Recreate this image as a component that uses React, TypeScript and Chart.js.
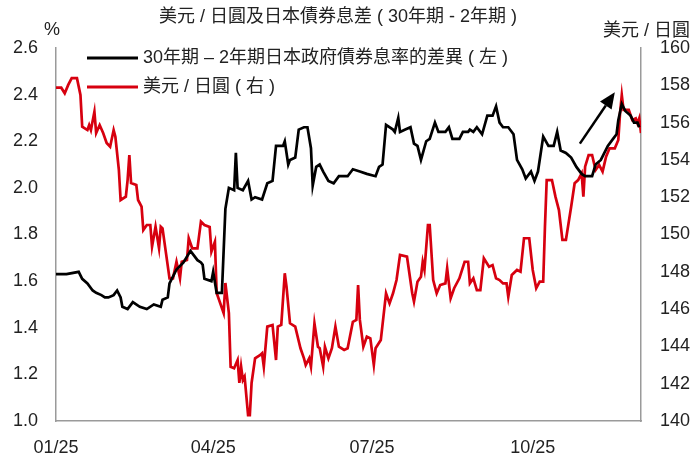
import React, { useEffect, useRef } from "react";
import { Chart, registerables } from "chart.js";

Chart.register(...registerables);

// ---------- text ----------
const TITLE = "美元 / 日圓及日本債券息差 ( 30年期 - 2年期 )";
const LEFT_UNIT = "%";
const RIGHT_UNIT = "美元 / 日圓";
const SERIES_NAMES = ["30年期 – 2年期日本政府債券息率的差異 ( 左 )", "美元 / 日圓 ( 右 )"];

// ---------- axes ----------
const X_TICK_DAYS = [0, 90, 181, 273]; // days since 2025-01-01
const X_TICK_LABELS = ["01/25", "04/25", "07/25", "10/25"];
const X_MIN_DAY = 0;
const X_MAX_DAY = 335;
const LEFT_MIN = 1.0;
const LEFT_MAX = 2.6;
const LEFT_STEP = 0.2;
const RIGHT_MIN = 140;
const RIGHT_MAX = 160;
const RIGHT_STEP = 2;

// ---------- series: 30Y - 2Y JGB spread (%), left axis ----------
const SPREAD_DAYS = [
  0, 5, 6, 13, 15, 18, 21, 23, 26, 28,
  30, 33, 35, 37, 38, 41, 44, 48, 52, 56,
  60, 61, 64, 65, 69, 73, 77, 81, 83, 84,
  85, 89, 90, 92, 95, 97, 99, 102, 103, 104,
  107, 110, 112, 114, 118, 121, 124, 126, 130, 131,
  133, 134, 137, 139, 142, 144, 146, 147, 149, 151,
  153, 156, 159, 162, 167, 170, 174, 178, 183, 185,
  187, 189, 193, 194, 196, 197, 200, 203, 205, 207,
  209, 212, 214, 217, 219, 223, 225, 227, 231, 233,
  236, 237, 239, 241, 244, 247, 250, 252, 254, 256,
  259, 262, 264, 267, 269, 272, 274, 276, 279, 282,
  285, 287, 289, 292, 295, 298, 301, 303, 307, 309,
  312, 316, 319, 321, 322, 324, 326, 329, 331, 333,
  334,
];
const SPREAD_VALUES = [
  1.63, 1.63, 1.63, 1.64, 1.61, 1.59, 1.56, 1.55, 1.54, 1.53,
  1.53, 1.54, 1.56, 1.53, 1.49, 1.48, 1.51, 1.49, 1.48, 1.50,
  1.49, 1.52, 1.53, 1.59, 1.65, 1.68, 1.73, 1.69, 1.68, 1.67,
  1.61, 1.60, 1.64, 1.55, 1.55, 1.91, 2.00, 1.99, 2.15, 2.00,
  1.99, 2.03, 1.95, 1.96, 1.95, 2.02, 2.03, 2.18, 2.18, 2.20,
  2.10, 2.12, 2.13, 2.25, 2.26, 2.26, 2.17, 2.01, 2.09, 2.10,
  2.07, 2.03, 2.02, 2.05, 2.05, 2.08, 2.07, 2.06, 2.05, 2.09,
  2.10, 2.27, 2.25, 2.24, 2.30, 2.24, 2.25, 2.26, 2.19, 2.18,
  2.12, 2.20, 2.21, 2.28, 2.24, 2.24, 2.26, 2.21, 2.21, 2.24,
  2.24, 2.25, 2.24, 2.26, 2.23, 2.31, 2.31, 2.35, 2.28, 2.26,
  2.26, 2.23, 2.12, 2.08, 2.04, 2.07, 2.03, 2.07, 2.22, 2.18,
  2.18, 2.24, 2.16, 2.15, 2.13, 2.09, 2.06, 2.05, 2.05, 2.10,
  2.12, 2.18, 2.21, 2.23, 2.29, 2.36, 2.33, 2.31, 2.28, 2.28,
  2.26,
];

// ---------- series: USD/JPY, right axis ----------
const USDJPY_DAYS = [
  0, 3, 5, 7, 9, 12, 14, 15, 18, 19,
  20, 22, 23, 25, 27, 29, 31, 33, 34, 36,
  37, 40, 41, 42, 43, 46, 47, 49, 50, 52,
  54, 55, 57, 59, 60, 61, 63, 65, 67, 69,
  71, 72, 75, 76, 78, 81, 83, 85, 88, 89,
  91, 92, 94, 96, 97, 99, 100, 102, 104, 105,
  106, 107, 108, 110, 111, 112, 114, 117, 118, 119,
  121, 124, 126, 127, 129, 131, 132, 134, 137, 140,
  142, 143, 145, 146, 148, 150, 151, 153, 154, 156,
  158, 160, 162, 165, 167, 170, 172, 173, 174, 176,
  178, 180, 182, 183, 186, 189, 191, 193, 195, 197,
  201, 204, 205, 207, 209, 210, 211, 213, 214, 216,
  218, 220, 223, 224, 226, 228, 231, 234, 236, 237,
  239, 241, 243, 245, 248, 250, 252, 254, 256, 258,
  259, 261, 264, 266, 268, 271, 273, 275, 277, 279,
  280, 281, 284, 286, 288, 290, 292, 295, 297, 299,
  301, 302, 303, 305, 307, 309, 311, 313, 315, 317,
  320, 322, 323, 324, 325, 328, 330, 332, 333, 334,
  335,
];
const USDJPY_VALUES = [
  157.87, 157.87, 157.57, 158.02, 158.38, 158.38, 157.48, 155.78, 155.6, 155.87,
  155.6, 156.58, 155.44, 155.87, 155.44, 154.91, 154.71, 155.6, 155.24, 153.46,
  151.85, 152.03, 152.92, 154.26, 152.76, 152.65, 151.85, 151.49, 150.24, 150.51,
  150.51, 149.35, 150.42, 149.26, 150.42, 150.33, 148.99, 147.65, 147.65, 148.54,
  147.65, 148.54, 148.63, 149.8, 149.26, 149.26, 150.69, 150.51, 150.4, 149.08,
  149.61, 146.86, 146.33, 145.79, 147.4, 145.79, 142.91, 142.83, 143.27, 142.04,
  142.91, 142.2, 142.38, 140.32, 140.32, 142.04, 143.36, 143.54, 143.63, 142.91,
  145.06, 145.15, 143.27, 145.06, 145.15, 147.92, 147.2, 145.24, 145.06, 143.9,
  143.36, 143.0, 143.36, 142.91, 145.24, 143.98, 143.9, 142.91, 143.98, 143.36,
  143.9, 145.06, 143.98, 143.81, 143.9, 145.32, 145.42, 147.29, 145.42, 143.98,
  144.52, 144.43, 143.0, 143.9, 144.34, 146.85, 146.31, 146.85, 147.56, 148.9,
  148.81, 146.85, 146.4, 147.47, 147.74, 148.54, 148.1, 150.51, 150.51, 147.56,
  146.85, 147.29, 147.38, 148.19, 146.58, 147.12, 147.65, 148.54, 148.54, 147.38,
  147.65, 147.02, 147.02, 148.72, 148.27, 148.36, 147.65, 147.56, 147.38, 147.38,
  146.66, 147.83, 148.1, 148.01, 149.8, 149.8, 148.1, 147.12, 147.47, 147.47,
  150.42, 152.92, 152.92, 152.03, 151.31, 149.71, 149.71, 151.49, 152.75, 152.92,
  153.28, 152.03, 153.64, 154.26, 154.26, 153.46, 153.73, 153.37, 154.17, 154.62,
  154.62, 155.07, 156.5, 157.48, 156.68, 156.68, 156.14, 156.23, 155.96, 156.23,
  155.44,
];

// ---------- annotation arrow (data coords on left axis) ----------
const ARROW_FROM = { day: 300, value: 2.19 };
const ARROW_TO = { day: 320, value: 2.41 };

const FONT = "'Liberation Sans', 'Noto Sans CJK TC', Arial, sans-serif";
const TEXT_COLOR = "#222222";
const AXIS_COLOR = "#9a9a9a";
const BLACK = "#000000";
const RED = "#d7000f";

const overlayPlugin = {
  id: "overlay",
  afterDraw(chart: any) {
    const ctx = chart.ctx;
    const area = chart.chartArea;
    ctx.save();
    ctx.fillStyle = TEXT_COLOR;
    ctx.font = `18px ${FONT}`;
    ctx.textBaseline = "middle";

    // title
    ctx.textAlign = "center";
    ctx.fillText(TITLE, 338, 17);

    // axis units
    ctx.textAlign = "center";
    ctx.fillText(LEFT_UNIT, area.left - 4, 30);
    ctx.textAlign = "right";
    ctx.fillText(RIGHT_UNIT, 690, 31);

    // legend
    const colors = [BLACK, RED];
    const ys = [area.top + 10, area.top + 39];
    for (let i = 0; i < 2; i++) {
      ctx.strokeStyle = colors[i];
      ctx.lineWidth = 3;
      ctx.beginPath();
      ctx.moveTo(area.left + 31, ys[i]);
      ctx.lineTo(area.left + 82, ys[i]);
      ctx.stroke();
      ctx.textAlign = "left";
      ctx.fillStyle = TEXT_COLOR;
      ctx.fillText(SERIES_NAMES[i], area.left + 87, ys[i]);
    }

    // arrow
    const xs = chart.scales.x;
    const yl = chart.scales.y;
    const x0 = xs.getPixelForValue(ARROW_FROM.day);
    const y0 = yl.getPixelForValue(ARROW_FROM.value);
    const x1 = xs.getPixelForValue(ARROW_TO.day);
    const y1 = yl.getPixelForValue(ARROW_TO.value);
    const ang = Math.atan2(y1 - y0, x1 - x0);
    const headLen = 16;
    const headW = 7;
    const bx = x1 - headLen * Math.cos(ang);
    const by = y1 - headLen * Math.sin(ang);
    ctx.strokeStyle = BLACK;
    ctx.lineWidth = 2.5;
    ctx.beginPath();
    ctx.moveTo(x0, y0);
    ctx.lineTo(bx, by);
    ctx.stroke();
    ctx.fillStyle = BLACK;
    ctx.beginPath();
    ctx.moveTo(x1, y1);
    ctx.lineTo(bx + headW * Math.sin(ang), by - headW * Math.cos(ang));
    ctx.lineTo(bx - headW * Math.sin(ang), by + headW * Math.cos(ang));
    ctx.closePath();
    ctx.fill();
    ctx.restore();
  },
};

export default function App() {
  const ref = useRef<HTMLCanvasElement | null>(null);

  useEffect(() => {
    document.body.style.margin = "0";
    const canvas = ref.current;
    if (!canvas) return;

    const spread = SPREAD_DAYS.map((d, i) => ({ x: d, y: SPREAD_VALUES[i] }));
    const usdjpy = USDJPY_DAYS.map((d, i) => ({ x: d, y: USDJPY_VALUES[i] }));

    const tickFont = { family: FONT, size: 18 };

    const chart = new Chart(canvas, {
      type: "line",
      data: {
        datasets: [
          {
            label: SERIES_NAMES[0],
            data: spread,
            borderColor: BLACK,
            borderWidth: 2.7,
            pointRadius: 0,
            tension: 0,
            yAxisID: "y",
          },
          {
            label: SERIES_NAMES[1],
            data: usdjpy,
            borderColor: RED,
            borderWidth: 2.7,
            pointRadius: 0,
            tension: 0,
            yAxisID: "y1",
          },
        ],
      },
      options: {
        responsive: false,
        animation: false,
        devicePixelRatio: 1,
        layout: { padding: { top: 48, left: 0, right: 0, bottom: 0 } },
        plugins: {
          legend: { display: false },
          title: { display: false },
          tooltip: { enabled: false },
        },
        scales: {
          x: {
            type: "linear",
            min: X_MIN_DAY,
            max: X_MAX_DAY,
            grid: { display: false, drawTicks: false },
            border: { display: true, color: AXIS_COLOR, width: 1.5 },
            afterBuildTicks: (scale: any) => {
              scale.ticks = X_TICK_DAYS.map((v) => ({ value: v }));
            },
            afterFit: (scale: any) => {
              scale.height = 39;
            },
            ticks: {
              autoSkip: false,
              maxRotation: 0,
              padding: 16,
              color: TEXT_COLOR,
              font: tickFont,
              callback: (v: any) => {
                const i = X_TICK_DAYS.indexOf(Number(v));
                return i >= 0 ? X_TICK_LABELS[i] : "";
              },
            },
          },
          y: {
            type: "linear",
            position: "left",
            min: LEFT_MIN,
            max: LEFT_MAX,
            grid: { display: false, drawTicks: false },
            border: { display: true, color: AXIS_COLOR, width: 1.5 },
            afterFit: (scale: any) => {
              scale.width = 56;
            },
            ticks: {
              stepSize: LEFT_STEP,
              padding: 18,
              color: TEXT_COLOR,
              font: tickFont,
              callback: (v: any) => Number(v).toFixed(1),
            },
          },
          y1: {
            type: "linear",
            position: "right",
            min: RIGHT_MIN,
            max: RIGHT_MAX,
            grid: { display: false, drawTicks: false },
            border: { display: true, color: AXIS_COLOR, width: 1.5 },
            afterFit: (scale: any) => {
              scale.width = 56;
            },
            ticks: {
              stepSize: RIGHT_STEP,
              padding: 19,
              color: TEXT_COLOR,
              font: tickFont,
              callback: (v: any) => String(Math.round(Number(v))),
            },
          },
        },
      },
      plugins: [overlayPlugin],
    } as any);

    return () => chart.destroy();
  }, []);

  return (
    <div style={{ width: 697, height: 460 }}>
      <canvas ref={ref} width={697} height={460} style={{ display: "block" }} />
    </div>
  );
}
